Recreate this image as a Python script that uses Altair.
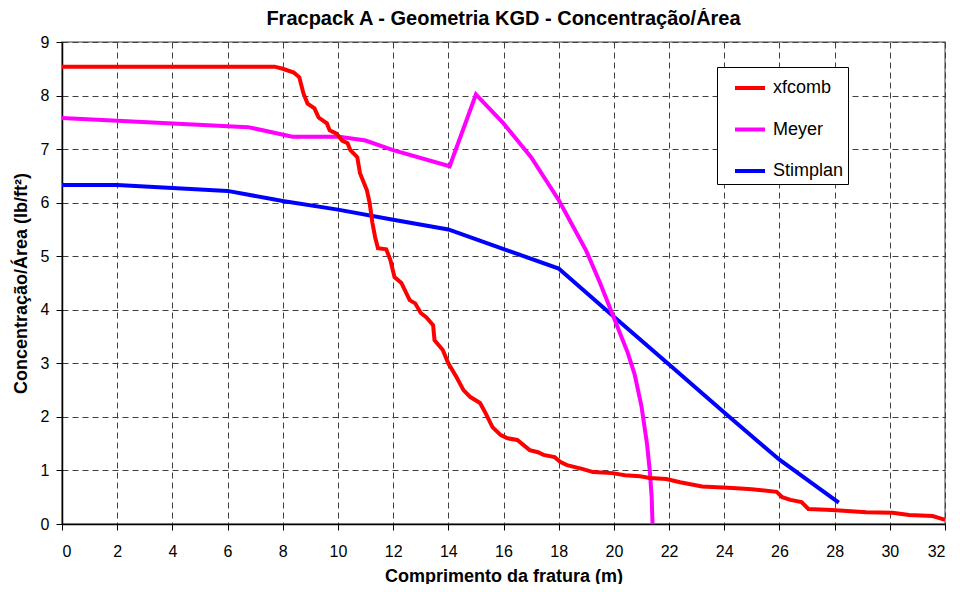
import altair as alt
import pandas as pd

series_names = ["xfcomb", "Meyer", "Stimplan"]
series_colors = ["#FF0000", "#FF00FF", "#0000FF"]

xf_x = [0, 7.7, 8.0, 8.4, 8.6, 8.75, 8.9, 9.15, 9.3, 9.6, 9.7, 9.95, 10.15, 10.35, 10.45, 10.7, 10.8, 11.05, 11.15, 11.25,
        11.35, 11.45, 11.75, 11.9, 12.05, 12.3, 12.6, 12.8, 13.0, 13.2, 13.45, 13.5, 13.8, 14.0, 14.3, 14.55, 14.8, 15.15, 15.35, 15.6,
        15.9, 16.15, 16.5, 16.95, 17.25, 17.45, 17.85, 18.05, 18.3, 18.85, 19.25, 19.95, 20.4, 20.95, 21.3, 21.9, 22.4, 23.2, 24.3, 25.0,
        25.9, 26.1, 26.4, 26.8, 27.05, 27.9, 29.15, 30.1, 30.7, 31.55, 31.8, 32.0]
xf_y = [8.54, 8.54, 8.5, 8.43, 8.34, 8.04, 7.85, 7.76, 7.59, 7.48, 7.35, 7.29, 7.16, 7.11, 6.98, 6.85, 6.55, 6.23, 5.99, 5.62,
        5.35, 5.15, 5.13, 4.93, 4.61, 4.5, 4.18, 4.12, 3.94, 3.86, 3.71, 3.43, 3.25, 3.0, 2.74, 2.5, 2.37, 2.26, 2.07, 1.81,
        1.66, 1.6, 1.57, 1.38, 1.34, 1.29, 1.25, 1.16, 1.1, 1.03, 0.97, 0.95, 0.91, 0.89, 0.86, 0.84, 0.78, 0.7, 0.67, 0.65,
        0.6, 0.5, 0.45, 0.41, 0.28, 0.26, 0.22, 0.21, 0.17, 0.15, 0.11, 0.08]

meyer_x = [0, 6.75, 8.35, 10.05, 11.0, 12.0, 14.05, 15.0, 16.0, 17.0, 18.0, 19.0, 19.5, 20.0, 20.5, 20.75, 21.0, 21.2, 21.3, 21.37, 21.4]
meyer_y = [7.58, 7.41, 7.23, 7.23, 7.16, 6.98, 6.68, 8.02, 7.48, 6.85, 6.05, 5.1, 4.5, 3.85, 3.2, 2.8, 2.2, 1.5, 1.0, 0.5, 0.0]

stim_x = [0, 2, 6, 8, 10, 12, 14, 18, 20, 22, 24, 26, 28.15]
stim_y = [6.33, 6.33, 6.22, 6.03, 5.87, 5.68, 5.5, 4.77, 3.87, 2.98, 2.08, 1.2, 0.4]

x_ticks = list(range(0, 33, 2))
y_ticks = list(range(0, 10, 1))

rows = []
for name, xs, ys in [("xfcomb", xf_x, xf_y), ("Meyer", meyer_x, meyer_y), ("Stimplan", stim_x, stim_y)]:
    for i, (a, b) in enumerate(zip(xs, ys)):
        rows.append({"serie": name, "x": a, "y": b, "i": i})
df = pd.DataFrame(rows)

FONT = "Liberation Sans"

xenc = alt.X("x:Q", scale=alt.Scale(domain=[0, 32], nice=False, zero=False),
             axis=alt.Axis(values=x_ticks, title="Comprimento da fratura (m)", titlePadding=8, labelPadding=13))
yenc = alt.Y("y:Q", scale=alt.Scale(domain=[0, 9], nice=False),
             axis=alt.Axis(values=y_ticks, title="Concentração/Área (lb/ft²)", titlePadding=10, labelPadding=7))
cenc = alt.Color("serie:N", scale=alt.Scale(domain=series_names, range=series_colors),
                 legend=alt.Legend(title=None, orient="none", legendX=655, legendY=25,
                                   strokeColor="black", fillColor="white", padding=4,
                                   symbolOffset=12,
                                   symbolType="stroke", symbolSize=900, symbolStrokeWidth=4,
                                   labelFontSize=18, labelFont=FONT, rowPadding=15.5,
                                   labelOffset=6, labelColor="black",
                                   labelExpr="datum.label + '\u00a0\u00a0\u00a0\u00a0'"))

base = alt.Chart(df)
layers = []
for name in ["Stimplan", "Meyer", "xfcomb"]:
    layers.append(
        base.transform_filter(alt.datum.serie == name)
        .mark_line(strokeWidth=4, clip=True)
        .encode(x=xenc, y=yenc, color=cenc, order="i:Q")
    )

chart = alt.layer(*layers).properties(
    width=883, height=482,
    title=alt.TitleParams("Fracpack A - Geometria KGD - Concentração/Área", font=FONT,
                          fontSize=20, fontWeight="bold", offset=5, color="black"),
    autosize=alt.AutoSizeParams(type="none"),
    padding={"left": 54, "top": 34, "right": 7, "bottom": 60},
).configure_view(stroke="#808080", strokeWidth=1.5).configure_axis(
    labelFont=FONT, labelFontSize=16, labelColor="black",
    titleFont=FONT, titleFontSize=18, titleFontWeight="bold", titleColor="black",
    domainColor="black", domainWidth=1.5, tickColor="black", tickSize=6,
    gridColor="#404040", gridDash=[6, 4], gridWidth=1, gridOpacity=1,
)

chart.save("out.html", embed_options={"renderer": "svg", "actions": False})
